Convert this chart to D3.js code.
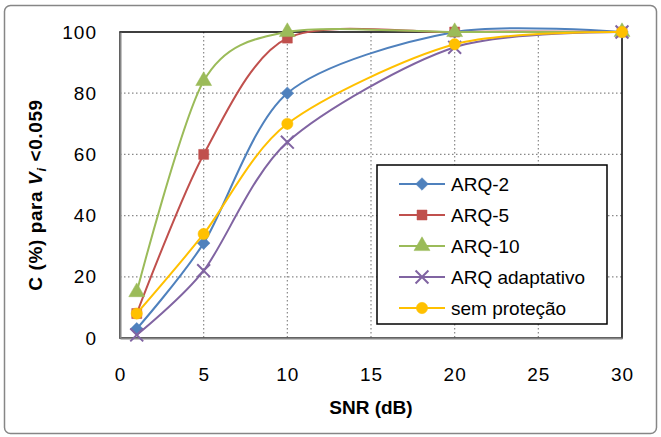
<!DOCTYPE html>
<html>
<head>
<meta charset="utf-8">
<script src="https://cdn.jsdelivr.net/npm/d3@7"></script>
<style>
  body { margin: 0; background: #fff; }
  text { font-family: "Liberation Sans", Arial, sans-serif; fill: #000; }
</style>
</head>
<body>
<div id="chart"></div>
<script>
"use strict";

var width = 661;
var height = 437;

var snr = [1, 5, 10, 20, 30];
var arq2 = [3, 31, 80, 100, 100];
var arq5 = [8, 60, 98, 100, 100];
var arq10 = [15, 84, 100, 100, 100];
var arqAdapt = [1, 22, 64, 95, 100];
var semProtecao = [8, 34, 70, 96, 100];

var seriesNames = ["ARQ-2", "ARQ-5", "ARQ-10", "ARQ adaptativo", "sem proteção"];
var seriesColors = ["#4F81BD", "#C0504D", "#9BBB59", "#8064A2", "#FFC000"];
var seriesSymbols = ["diamond", "square", "triangle", "cross", "circle"];
var seriesValues = [arq2, arq5, arq10, arqAdapt, semProtecao];

var xTicks = [0, 5, 10, 15, 20, 25, 30];
var yTicks = [0, 20, 40, 60, 80, 100];

var plot = { left: 120, right: 622, top: 32, bottom: 338 };

var xScale = d3.scaleLinear().domain([0, 30]).range([plot.left, plot.right]);
var yScale = d3.scaleLinear().domain([0, 100]).range([plot.bottom, plot.top]);

var svg = d3.select("#chart").append("svg")
    .attr("width", width)
    .attr("height", height);

// chart outer border
svg.append("rect")
   .attr("x", 4.5).attr("y", 5.5)
   .attr("width", 652).attr("height", 428)
   .attr("rx", 6)
   .attr("fill", "#fff")
   .attr("stroke", "#868686")
   .attr("stroke-width", 1.5);

// gridlines
svg.append("g").selectAll("line")
   .data(xTicks.slice(1, -1))
   .enter().append("line")
   .attr("x1", function(d) { return xScale(d); })
   .attr("x2", function(d) { return xScale(d); })
   .attr("y1", plot.top).attr("y2", plot.bottom)
   .attr("stroke", "#888").attr("stroke-width", 1.2)
   .attr("stroke-dasharray", "1.5,2.5");

svg.append("g").selectAll("line")
   .data(yTicks.slice(1, -1))
   .enter().append("line")
   .attr("y1", function(d) { return yScale(d); })
   .attr("y2", function(d) { return yScale(d); })
   .attr("x1", plot.left).attr("x2", plot.right)
   .attr("stroke", "#888").attr("stroke-width", 1.2)
   .attr("stroke-dasharray", "1.5,2.5");

// plot area border
svg.append("rect")
   .attr("x", plot.left).attr("y", plot.top)
   .attr("width", plot.right - plot.left)
   .attr("height", plot.bottom - plot.top)
   .attr("fill", "none")
   .attr("stroke", "#000")
   .attr("stroke-width", 1.5);

// axes
var xAxis = d3.axisBottom(xScale).tickValues(xTicks).tickSize(0).tickPadding(30);
var yAxis = d3.axisLeft(yScale).tickValues(yTicks).tickSize(0).tickPadding(23);

var gx = svg.append("g")
   .attr("transform", "translate(0," + plot.bottom + ")")
   .call(xAxis);
gx.select(".domain").attr("stroke", "#868686").attr("stroke-width", 2);
gx.selectAll("text").style("font-size", "19px").style("letter-spacing", "1px").attr("fill", "#000");

var gy = svg.append("g")
   .attr("transform", "translate(" + plot.left + ",0)")
   .call(yAxis);
gy.select(".domain").attr("stroke", "#868686").attr("stroke-width", 2);
gy.selectAll("text").style("font-size", "19px").style("letter-spacing", "1px").attr("fill", "#000");

// axis titles
svg.append("text")
   .attr("x", xScale(15))
   .attr("y", 414)
   .attr("text-anchor", "middle")
   .style("font-size", "19px")
   .style("font-weight", "bold")
   .text("SNR (dB)");

var yTitle = svg.append("text")
   .attr("transform", "translate(42,195) rotate(-90)")
   .attr("text-anchor", "middle")
   .style("font-size", "19px")
   .style("letter-spacing", "0.6px")
   .style("font-weight", "bold");
yTitle.append("tspan").text("C (%) para ");
yTitle.append("tspan").style("font-style", "italic").text("V");
yTitle.append("tspan").style("font-style", "italic").style("font-size", "13px")
   .attr("dy", 4).text("i");
yTitle.append("tspan").attr("dy", -4).text(" <0.059");

var rhombus = {
   draw: function(context, size) {
      var r = Math.sqrt(size / 2);
      context.moveTo(0, -r);
      context.lineTo(r, 0);
      context.lineTo(0, r);
      context.lineTo(-r, 0);
      context.closePath();
   }
};

function symbolFor(name) {
   if (name === "diamond") return d3.symbol().type(rhombus).size(80);
   if (name === "square") return d3.symbol().type(d3.symbolSquare).size(100);
   if (name === "triangle") return d3.symbol().type(d3.symbolTriangle).size(110);
   if (name === "cross") return d3.symbol().type(d3.symbolX).size(110);
   return d3.symbol().type(d3.symbolCircle).size(100);
}

function drawMarker(g, name, color, x, y) {
   var p = g.append("path")
      .attr("d", symbolFor(name)())
      .attr("transform", "translate(" + x + "," + y + ")");
   if (name === "cross") {
      p.attr("fill", "none").attr("stroke", color).attr("stroke-width", 2);
   } else {
      p.attr("fill", color).attr("stroke", color).attr("stroke-width", 0.5);
   }
}

// smoothed lines, like the spreadsheet's smooth option
var line = d3.line()
   .x(function(d) { return xScale(d[0]); })
   .y(function(d) { return yScale(d[1]); })
   .curve(d3.curveCardinal.tension(0.15));

var seriesG = svg.append("g");
seriesValues.forEach(function(vals, s) {
   var pts = snr.map(function(x, i) { return [x, vals[i]]; });
   var g = seriesG.append("g");
   g.append("path")
      .attr("d", line(pts))
      .attr("fill", "none")
      .attr("stroke", seriesColors[s])
      .attr("stroke-width", 2);
   pts.forEach(function(p) {
      drawMarker(g, seriesSymbols[s], seriesColors[s], xScale(p[0]), yScale(p[1]));
   });
});

// legend
var legend = svg.append("g");
legend.append("rect")
   .attr("x", 377).attr("y", 165)
   .attr("width", 230).attr("height", 159)
   .attr("fill", "#fff")
   .attr("stroke", "#000")
   .attr("stroke-width", 1.5);

seriesNames.forEach(function(name, i) {
   var y = 184 + i * 31;
   legend.append("line")
      .attr("x1", 399).attr("x2", 445)
      .attr("y1", y).attr("y2", y)
      .attr("stroke", seriesColors[i])
      .attr("stroke-width", 2);
   drawMarker(legend, seriesSymbols[i], seriesColors[i], 422, y);
   legend.append("text")
      .attr("x", 451)
      .attr("y", y)
      .attr("dy", "0.35em")
      .style("font-size", "19px")
      .text(name);
});
</script>
</body>
</html>
